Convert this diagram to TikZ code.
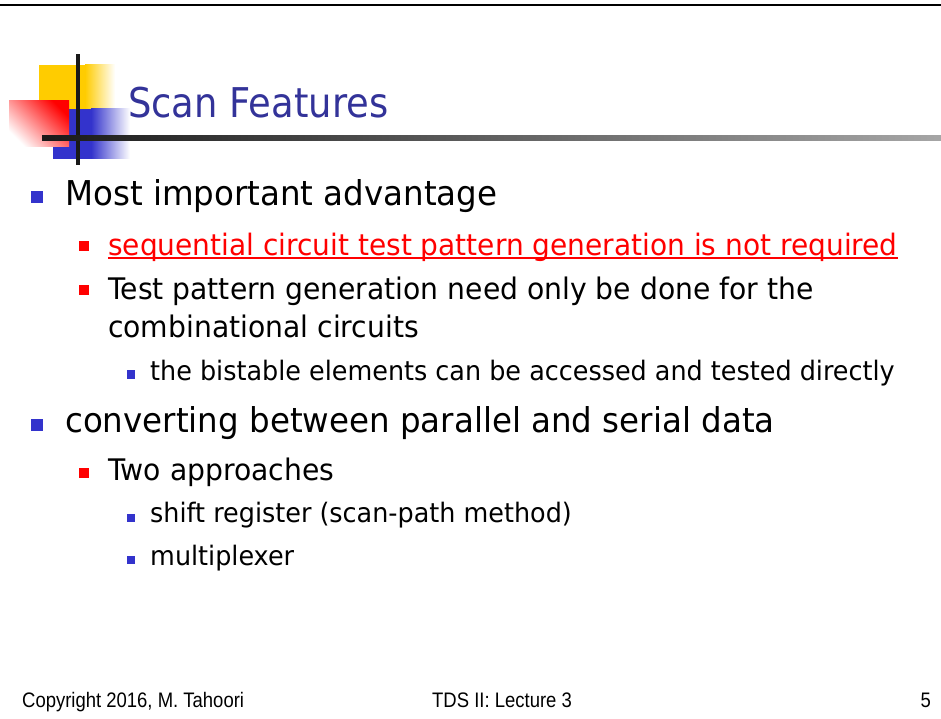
\documentclass[tikz,border=0pt]{standalone}
\usepackage{fontspec}
\setmainfont[FakeStretch=0.95]{DejaVu Sans}
\newfontfamily\titlefont[FakeStretch=0.9]{DejaVu Sans}
\newfontfamily\footfont[FakeStretch=0.88]{Liberation Sans}
\usepackage{xcolor}
\usepackage{tikz}
\definecolor{titleblue}{HTML}{333399}
\definecolor{bulletblue}{HTML}{3333CC}
\definecolor{logoyellow}{HTML}{FFCC00}
\tikzset{
  txt/.style={anchor=base west,inner sep=0pt},
  bluebox/.style={fill=bulletblue,inner sep=0pt,minimum size=#1},
  redbox/.style={fill=red,inner sep=0pt,minimum size=#1}
}

\begin{document}
\begin{tikzpicture}[x=1pt,y=-1pt]
	\useasboundingbox (0,0) rectangle (941,719);
	\fill[black] (0,4) rectangle (941,6.5);

	% logo
	\fill[logoyellow] (39,65) rectangle (86,109);
	\shade[left color=logoyellow,right color=white] (85,65) rectangle (115,109);
	\fill[bulletblue] (53,109) rectangle (92,159);
	\shade[left color=bulletblue,right color=white] (91,109) rectangle (130,159);
	\shade[top color=red,bottom color=white,shading angle=-45] (9,101) rectangle (69,147);
	\fill[black!90] (76,54) rectangle (80,165);
	\shade[left color=black!90,right color=black!35] (42,136) rectangle (941,141);

	\node[txt,text=titleblue,font=\titlefont\fontsize{41}{48}\selectfont] (title) at (128,118) {Scan Features};

	% bullets
	\node[bluebox=12] (b1) at (37,197) {};
	\node[txt,font=\fontsize{34.2}{40}\selectfont] (l1) at (65,206) {Most important advantage};
	\node[redbox=10] (b2) at (84,246) {};
	\node[txt,text=red,font=\fontsize{29.5}{36}\selectfont] (l2) at (108,255) {sequential circuit test pattern generation is not required};
	\draw[red,line width=2pt] ([yshift=-3pt]l2.base west) -- ([yshift=-3pt]l2.base east);
	\node[redbox=10] (b3) at (84,290) {};
	\node[txt,font=\fontsize{29.7}{36}\selectfont] (l3) at (108,299) {Test pattern generation need only be done for the};
	\node[txt,font=\fontsize{29.7}{36}\selectfont] (l3b) at (108,337) {combinational circuits};
	\node[bluebox=8.5] (b4) at (131,374.5) {};
	\node[txt,font=\fontsize{26.8}{32}\selectfont] (l4) at (150,380) {the bistable elements can be accessed and tested directly};

	\node[bluebox=12] (b5) at (37,425) {};
	\node[txt,font=\fontsize{34.2}{40}\selectfont] (l5) at (65,432) {converting between parallel and serial data};
	\node[redbox=10] (b6) at (84,473) {};
	\node[txt,font=\fontsize{29.7}{36}\selectfont] (l6) at (108,480) {Two approaches};
	\node[bluebox=8.5] (b7) at (131,518) {};
	\node[txt,font=\fontsize{26.8}{32}\selectfont] (l7) at (150,522) {shift register (scan-path method)};
	\node[bluebox=8.5] (b8) at (131,560) {};
	\node[txt,font=\fontsize{26.8}{32}\selectfont] (l8) at (150,565) {multiplexer};

	% footer
	\node[txt,font=\footfont\fontsize{21}{24}\selectfont] (copy) at (22,707) {Copyright 2016, M. Tahoori};
	\node[txt,font=\footfont\fontsize{21}{24}\selectfont] (lect) at (432,707) {TDS II: Lecture 3};
	\node[anchor=base east,inner sep=0pt,font=\footfont\fontsize{21}{24}\selectfont] (page) at (931,707) {5};
\end{tikzpicture}
\end{document}
